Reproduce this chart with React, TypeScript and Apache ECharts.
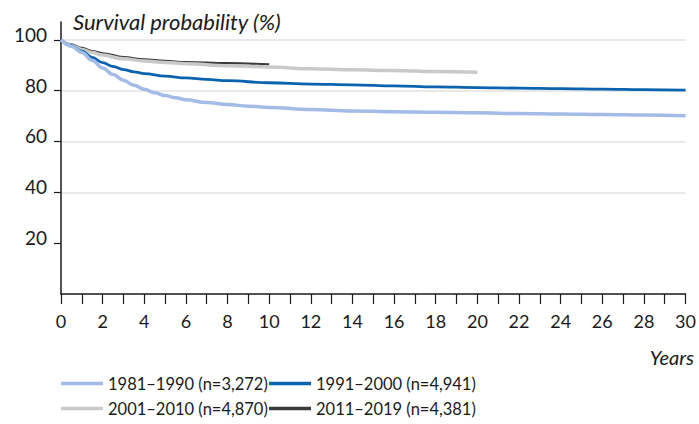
import React, { useEffect, useRef } from "react";
import * as echarts from "echarts";

const years1 = [0, 0.5, 1, 1.5, 2, 2.5, 3, 3.5, 4, 4.5, 5, 5.5, 6, 7, 8, 9, 10, 12, 14, 16, 18, 20, 22, 24, 26, 28, 30];
const s1981 = [100, 97.5, 95, 91.9, 88.9, 86.3, 84.1, 82.1, 80.5, 79.2, 78.1, 77.2, 76.4, 75.3, 74.5, 73.9, 73.4, 72.6, 72.0, 71.7, 71.5, 71.3, 71.0, 70.8, 70.6, 70.4, 70.1];

const years2 = [0, 0.5, 1, 1.5, 2, 2.5, 3, 3.5, 4, 5, 6, 7, 8, 10, 12, 14, 16, 18, 20, 22, 24, 26, 28, 30];
const s1991 = [100, 97.7, 95.5, 93.1, 91.0, 89.5, 88.3, 87.4, 86.7, 85.7, 85.0, 84.4, 83.9, 83.1, 82.6, 82.3, 81.9, 81.5, 81.2, 81.0, 80.8, 80.6, 80.4, 80.2];

const years3 = [0, 0.5, 1, 1.5, 2, 3, 4, 5, 6, 8, 10, 12, 14, 16, 18, 20];
const s2001 = [100, 97.8, 96.2, 95, 94, 92.5, 91.7, 91.1, 90.6, 89.8, 89.3, 88.6, 88.2, 87.9, 87.5, 87.2];

const years4 = [0, 0.5, 1, 1.5, 2, 3, 4, 5, 6, 8, 10];
const s2011 = [100, 98.2, 96.8, 95.6, 94.7, 93.2, 92.3, 91.7, 91.2, 90.8, 90.3];

const names = ["1981–1990 (n=3,272)", "1991–2000 (n=4,941)", "2001–2010 (n=4,870)", "2011–2019 (n=4,381)"];
const colors = ["#a3bbe7", "#0b63b0", "#c9c9c9", "#3b3b3b"];
const yTicks = [20, 40, 60, 80, 100];

const FONT = "Lato, 'Open Sans', sans-serif";

function zip(xs: number[], ys: number[]) {
  return xs.map((x, i) => [x, ys[i]]);
}

export default function App() {
  const ref = useRef<HTMLDivElement>(null);
  useEffect(() => {
    if (!ref.current) return;
    const chart = echarts.init(ref.current, undefined, { renderer: "svg" });
    const mk = (i: number, xs: number[], ys: number[], w: number) => ({
      name: names[i],
      type: "line",
      data: zip(xs, ys),
      smooth: 0.4,
      smoothMonotone: "x",
      showSymbol: false,
      symbol: "none",
      z: 10 - i,
      lineStyle: { color: colors[i], width: w },
      itemStyle: { color: colors[i] },
    });
    chart.setOption({
      animation: false,
      grid: { left: 61, right: 13, top: 22, bottom: 130 },
      title: [
        {
          text: "Survival probability (%)",
          left: 68,
          top: 5,
          textStyle: { fontFamily: FONT, fontStyle: "italic", fontWeight: "normal", fontSize: 22, color: "#1a1a1a" },
        },
        {
          text: "Years",
          right: 0,
          top: 342,
          textStyle: { fontFamily: FONT, fontStyle: "italic", fontWeight: "normal", fontSize: 20, color: "#1a1a1a" },
        },
      ],
      xAxis: {
        type: "value",
        min: 0,
        max: 30,
        interval: 2,
        axisLine: { show: true, lineStyle: { color: "#1a1a1a", width: 1.5 } },
        axisTick: { show: true, length: 10, lineStyle: { color: "#1a1a1a", width: 1.2 } },
        minorTick: { show: true, splitNumber: 2, length: 10, lineStyle: { color: "#1a1a1a", width: 1.2 } },
        splitLine: { show: false },
        axisLabel: { margin: 18, fontFamily: FONT, fontSize: 18, color: "#1a1a1a" },
      },
      yAxis: {
        type: "value",
        min: 0,
        max: 107,
        interval: 20,
        axisLine: { show: true, lineStyle: { color: "#1a1a1a", width: 1.5 } },
        axisTick: { show: true, length: 7, customValues: yTicks, lineStyle: { color: "#1a1a1a", width: 1.2 } },
        axisLabel: {
          customValues: yTicks,
          margin: 14,
          fontFamily: FONT,
          fontSize: 19,
          color: "#1a1a1a",
          verticalAlign: "bottom",
          lineHeight: 11,
        },
        splitLine: {
          show: true,
          lineStyle: { color: ["transparent", "#e2e2e2", "#e2e2e2", "#e2e2e2", "#e2e2e2", "#e2e2e2", "transparent"], width: 1.5 },
        },
      },
      legend: [
        {
          data: [names[0], names[2]],
          orient: "vertical",
          left: 61,
          top: 375,
          padding: 0,
          itemGap: 8,
          itemWidth: 42,
          itemHeight: 3.5,
          icon: "rect",
          textStyle: { fontFamily: FONT, fontSize: 16.5, color: "#1a1a1a" },
        },
        {
          data: [names[1], names[3]],
          orient: "vertical",
          left: 269,
          top: 375,
          padding: 0,
          itemGap: 8,
          itemWidth: 42,
          itemHeight: 3.5,
          icon: "rect",
          textStyle: { fontFamily: FONT, fontSize: 16.5, color: "#1a1a1a" },
        },
      ],
      series: [
        mk(0, years1, s1981, 3.5),
        mk(1, years2, s1991, 2.8),
        mk(2, years3, s2001, 3.5),
        mk(3, years4, s2011, 2.2),
      ],
    });
    return () => chart.dispose();
  }, []);
  return <div ref={ref} style={{ width: 699, height: 424, position: "absolute", left: 0, top: 0 }} />;
}
